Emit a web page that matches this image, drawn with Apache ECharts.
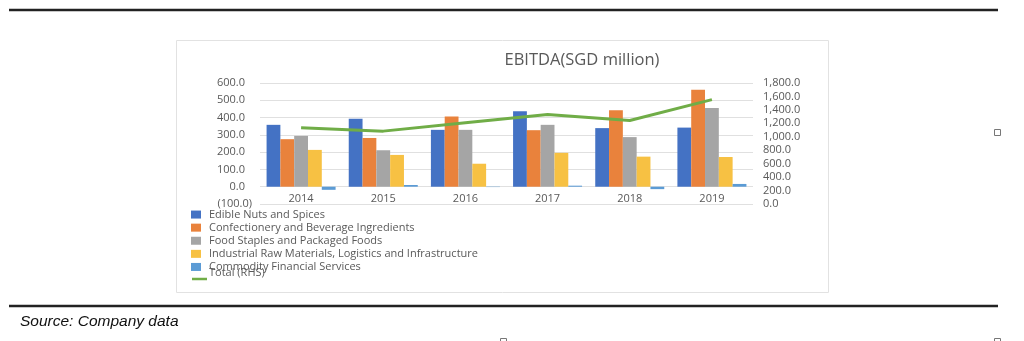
<!DOCTYPE html>
<html>
<head>
<meta charset="utf-8">
<script src="https://cdn.jsdelivr.net/npm/echarts@6/dist/echarts.min.js"></script>
<style>
html,body{margin:0;padding:0;background:#fff;}
#chart{width:1024px;height:341px;}
</style>
</head>
<body>
<div id="chart"></div>
<script>
const categories = ['2014', '2015', '2016', '2017', '2018', '2019'];
const edibleNuts = [358, 393, 329, 437, 339, 342];
const confectionery = [275, 282, 406, 327, 443, 561];
const foodStaples = [294, 211, 329, 358, 287, 455];
const industrial = [213, 184, 133, 196, 174, 172];
const commodityFin = [-18, 10, -2, 6, -14, 16];
const totalRHS = [1134, 1084, 1208, 1331, 1243, 1553];

const seriesNames = [
  'Edible Nuts and Spices',
  'Confectionery and Beverage Ingredients',
  'Food Staples and Packaged Foods',
  'Industrial Raw Materials, Logistics and Infrastructure',
  'Commodity Financial Services'
];
const totalName = 'Total (RHS)';
const colors = ['#4472C4', '#E9823C', '#A5A5A5', '#F7C143', '#5B9BD5'];
const barData = [edibleNuts, confectionery, foodStaples, industrial, commodityFin];

const FONT = '"Open Sans", "Noto Sans", sans-serif';
const TXT = '#595959';

function fmtLeft(v) {
  return v < 0 ? '(' + Math.abs(v).toFixed(1) + ')' : '{p|' + v.toFixed(1) + '}';
}
function fmtRight(v) {
  return v.toLocaleString('en-US', {minimumFractionDigits: 1, maximumFractionDigits: 1});
}

const chart = echarts.init(document.getElementById('chart'), null, {renderer: 'canvas'});

const series = barData.map((d, i) => ({
  name: seriesNames[i],
  type: 'bar',
  data: d,
  yAxisIndex: 0,
  barGap: '0%',
  barCategoryGap: '16%',
  itemStyle: {color: colors[i]},
  z: 3
}));
series.push({
  name: totalName,
  type: 'line',
  data: totalRHS,
  yAxisIndex: 1,
  symbol: 'none',
  lineStyle: {color: '#70AD47', width: 3},
  itemStyle: {color: '#70AD47'},
  z: 5
});

chart.setOption({
  animation: false,
  backgroundColor: '#fff',
  title: {
    text: 'EBITDA(SGD million)',
    left: 577,
    top: 47,
    textAlign: 'center',
    textStyle: {fontFamily: FONT, fontSize: 16.5, fontWeight: 'normal', color: TXT}
  },
  graphic: [
    {type: 'rect', shape: {x: 176.5, y: 40.5, width: 652, height: 252}, style: {fill: '#fff', stroke: '#e2e2e2', lineWidth: 1}, z: -10},
    {type: 'line', shape: {x1: 9, y1: 10, x2: 998, y2: 10}, style: {stroke: '#222', lineWidth: 2.5}},
    {type: 'line', shape: {x1: 9, y1: 306, x2: 998, y2: 306}, style: {stroke: '#222', lineWidth: 2.5}},
    {type: 'rect', shape: {x: 994.5, y: 129.5, width: 6, height: 6}, style: {fill: '#fff', stroke: '#777', lineWidth: 1}},
    {type: 'rect', shape: {x: 500.5, y: 338.5, width: 6, height: 6}, style: {fill: '#fff', stroke: '#777', lineWidth: 1}},
    {type: 'rect', shape: {x: 994.5, y: 338.5, width: 6, height: 6}, style: {fill: '#fff', stroke: '#777', lineWidth: 1}},
    {type: 'line', shape: {x1: 192, y1: 279, x2: 207, y2: 279}, style: {stroke: '#70AD47', lineWidth: 2.5}},
    {type: 'text', left: 20, top: 314, style: {text: 'Source: Company data', font: 'italic 15.5px "Liberation Sans", Arial, sans-serif', fill: '#111'}}
  ],
  grid: {left: 260, right: 271, top: 83, height: 121, containLabel: false},
  legend: [
    {
      data: seriesNames.map(n => ({name: n, icon: 'rect'})),
      orient: 'vertical',
      left: 191,
      top: 208,
      padding: 0,
      itemWidth: 10,
      itemHeight: 8,
      itemGap: 0,
      textStyle: {fontFamily: FONT, fontSize: 11, color: TXT, lineHeight: 13.1, padding: [0, 0, 0, 3]}
    },
    {
      data: [{name: totalName, icon: 'rect', itemStyle: {opacity: 0}}],
      orient: 'vertical',
      left: 191,
      top: 266,
      padding: 0,
      itemWidth: 13,
      itemHeight: 3,
      itemGap: 0,
      textStyle: {fontFamily: FONT, fontSize: 11, color: TXT, lineHeight: 13}
    }
  ],
  xAxis: {
    type: 'category',
    data: categories,
    axisLine: {show: false, onZero: false},
    axisTick: {show: false},
    axisLabel: {fontFamily: FONT, fontSize: 11, color: TXT, margin: -11}
  },
  yAxis: [
    {
      type: 'value',
      min: -100, max: 600, interval: 100,
      axisLine: {show: false},
      axisTick: {show: false},
      splitLine: {lineStyle: {color: '#e0e0e0', width: 1}},
      axisLabel: {fontFamily: FONT, fontSize: 11, color: TXT, margin: 8, formatter: fmtLeft,
        rich: {p: {fontFamily: FONT, fontSize: 11, color: TXT, padding: [0, 7, 0, 0]}}}
    },
    {
      type: 'value',
      min: 0, max: 1800, interval: 200,
      axisLine: {show: false},
      axisTick: {show: false},
      splitLine: {show: false},
      axisLabel: {fontFamily: FONT, fontSize: 11, color: TXT, margin: 10, formatter: fmtRight}
    }
  ],
  series: series
});
</script>
</body>
</html>
